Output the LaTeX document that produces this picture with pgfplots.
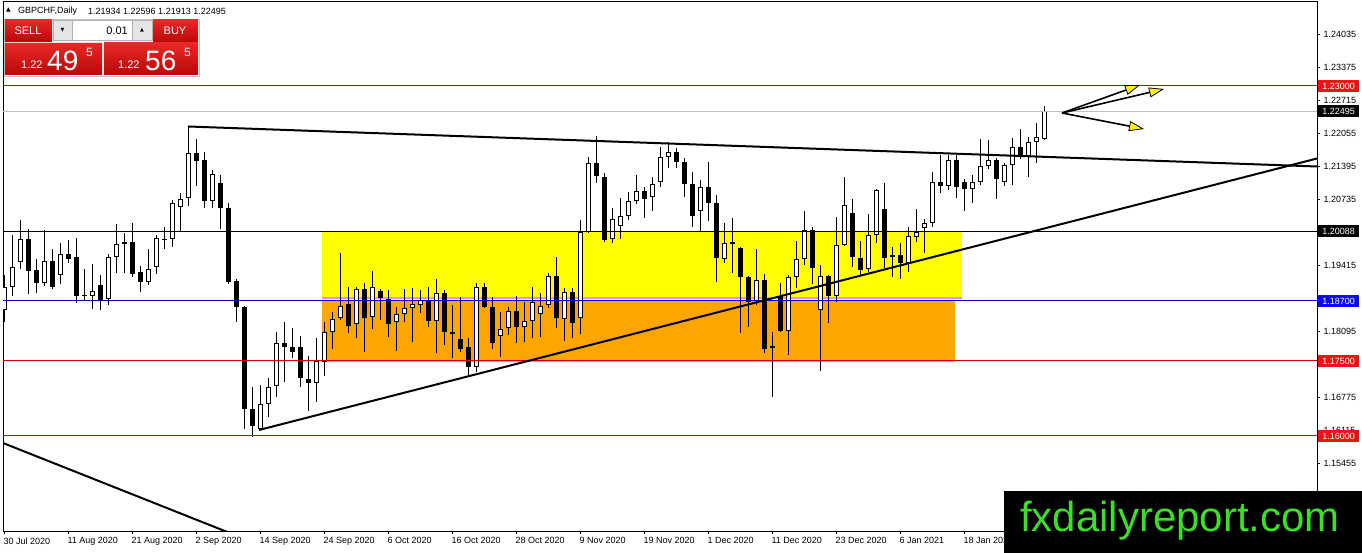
\documentclass[border=0pt]{standalone}
\usepackage{pgfplots}
\pgfplotsset{compat=1.18}
\usepackage{pgfplotstable}
\usepackage{fontspec}
\setmainfont{Liberation Sans}
\newfontfamily\dejavu{DejaVu Sans}
\usetikzlibrary{arrows.meta}
\definecolor{lnred}{RGB}{210,0,0}
\definecolor{lnblue}{RGB}{0,0,210}
\definecolor{boxorange}{RGB}{255,165,0}
\definecolor{boxyellow}{RGB}{255,255,0}
\definecolor{violetband}{RGB}{215,150,255}
\definecolor{wmgreen}{RGB}{60,222,40}
\definecolor{redtop}{RGB}{232,40,40}
\definecolor{redbot}{RGB}{185,8,8}
\definecolor{lblred}{RGB}{235,20,20}
\definecolor{lblblue}{RGB}{10,10,235}

\pgfplotstableread{
i o h l c
0 1.1852 1.1922 1.1828 1.1898
1 1.1898 1.2002 1.1880 1.1938
2 1.1948 1.2032 1.1934 1.1994
3 1.1994 1.2014 1.1884 1.1930
4 1.1932 1.1954 1.1886 1.1906
5 1.1906 1.2012 1.1900 1.1950
6 1.1950 1.1974 1.1894 1.1898
7 1.1922 1.1986 1.1904 1.1964
8 1.1964 1.1992 1.1946 1.1954
9 1.1958 1.1996 1.1866 1.1880
10 1.1882 1.1934 1.1872 1.1880
11 1.1880 1.1944 1.1854 1.1890
12 1.1902 1.1922 1.1852 1.1872
13 1.1874 1.1964 1.1862 1.1958
14 1.1958 1.2024 1.1926 1.1984
15 1.1984 1.2006 1.1926 1.1988
16 1.1988 1.2026 1.1918 1.1924
17 1.1928 1.1940 1.1888 1.1908
18 1.1908 1.1974 1.1902 1.1934
19 1.1938 1.2002 1.1924 1.1996
20 1.1993 1.2018 1.1974 1.1994
21 1.1994 1.2072 1.1978 1.2066
22 1.2058 1.2086 1.2010 1.2074
23 1.2076 1.2220 1.2060 1.2166
24 1.2166 1.2194 1.2100 1.2150
25 1.2152 1.2168 1.2056 1.2070
26 1.2070 1.2132 1.2056 1.2124
27 1.2106 1.2122 1.2014 1.2056
28 1.2056 1.2066 1.1904 1.1908
29 1.1910 1.1914 1.1828 1.1858
30 1.1858 1.1860 1.1614 1.1654
31 1.1654 1.1698 1.1598 1.1620
32 1.1614 1.1702 1.1612 1.1664
33 1.1664 1.1716 1.1638 1.1698
34 1.1700 1.1808 1.1678 1.1786
35 1.1786 1.1828 1.1708 1.1778
36 1.1778 1.1816 1.1756 1.1768
37 1.1778 1.1800 1.1698 1.1716
38 1.1714 1.1760 1.1650 1.1706
39 1.1706 1.1796 1.1668 1.1750
40 1.1748 1.1828 1.1720 1.1808
41 1.1808 1.1848 1.1774 1.1834
42 1.1836 1.1966 1.1832 1.1860
43 1.1864 1.1898 1.1806 1.1820
44 1.1824 1.1898 1.1796 1.1894
45 1.1894 1.1906 1.1768 1.1836
46 1.1838 1.1930 1.1814 1.1898
47 1.1890 1.1894 1.1832 1.1876
48 1.1874 1.1892 1.1798 1.1824
49 1.1828 1.1858 1.1770 1.1844
50 1.1844 1.1894 1.1828 1.1856
51 1.1856 1.1896 1.1788 1.1864
52 1.1862 1.1892 1.1846 1.1872
53 1.1872 1.1898 1.1818 1.1830
54 1.1830 1.1914 1.1766 1.1886
55 1.1886 1.1892 1.1782 1.1808
56 1.1808 1.1862 1.1756 1.1804
57 1.1794 1.1878 1.1768 1.1774
58 1.1778 1.1796 1.1718 1.1738
59 1.1738 1.1906 1.1728 1.1898
60 1.1898 1.1906 1.1856 1.1858
61 1.1858 1.1878 1.1774 1.1786
62 1.1800 1.1848 1.1758 1.1814
63 1.1816 1.1858 1.1802 1.1850
64 1.1850 1.1880 1.1786 1.1818
65 1.1818 1.1868 1.1788 1.1830
66 1.1830 1.1898 1.1796 1.1868
67 1.1844 1.1886 1.1798 1.1860
68 1.1862 1.1926 1.1856 1.1920
69 1.1920 1.1958 1.1816 1.1836
70 1.1834 1.1896 1.1790 1.1888
71 1.1888 1.1896 1.1796 1.1826
72 1.1836 1.2032 1.1804 1.2008
73 1.2008 1.2158 1.2006 1.2146
74 1.2146 1.2200 1.2106 1.2120
75 1.2118 1.2126 1.1988 1.1992
76 1.1994 1.2056 1.1986 1.2034
77 1.2020 1.2076 1.1994 1.2040
78 1.2040 1.2088 1.2032 1.2070
79 1.2070 1.2122 1.2064 1.2090
80 1.2090 1.2098 1.2036 1.2074
81 1.2078 1.2118 1.2050 1.2104
82 1.2108 1.2178 1.2098 1.2158
83 1.2158 1.2188 1.2136 1.2168
84 1.2168 1.2176 1.2136 1.2148
85 1.2148 1.2156 1.2078 1.2104
86 1.2104 1.2128 1.2018 1.2040
87 1.2050 1.2112 1.2008 1.2098
88 1.2098 1.2148 1.2030 1.2066
89 1.2066 1.2082 1.1908 1.1956
90 1.1954 1.2026 1.1946 1.1986
91 1.1988 1.2036 1.1926 1.1984
92 1.1976 1.1978 1.1806 1.1918
93 1.1918 1.1920 1.1818 1.1868
94 1.1870 1.1974 1.1862 1.1912
95 1.1912 1.1924 1.1766 1.1774
96 1.1780 1.1808 1.1678 1.1776
97 1.1880 1.1906 1.1808 1.1810
98 1.1810 1.1922 1.1762 1.1918
99 1.1918 1.1990 1.1896 1.1954
100 1.1954 1.2050 1.1942 1.2012
101 1.2012 1.2018 1.1904 1.1936
102 1.1852 1.1942 1.1730 1.1920
103 1.1920 1.1922 1.1826 1.1880
104 1.1880 1.2038 1.1868 1.1982
105 1.1982 1.2118 1.1980 1.2062
106 1.2046 1.2074 1.1938 1.1958
107 1.1956 1.1990 1.1918 1.1932
108 1.1934 1.2044 1.1928 1.2002
109 1.2002 1.2094 1.1986 1.2092
110 1.2054 1.2106 1.1936 1.1956
111 1.1958 1.1978 1.1918 1.1962
112 1.1962 1.1986 1.1914 1.1946
113 1.1946 1.2018 1.1928 1.2000
114 1.1998 1.2054 1.1988 1.2008
115 1.2016 1.2034 1.1966 1.2026
116 1.2026 1.2128 1.2018 1.2108
117 1.2108 1.2162 1.2086 1.2100
118 1.2100 1.2162 1.2092 1.2152
119 1.2152 1.2162 1.2076 1.2098
120 1.2108 1.2114 1.2050 1.2094
121 1.2094 1.2122 1.2066 1.2108
122 1.2108 1.2194 1.2102 1.2140
123 1.2140 1.2192 1.2134 1.2152
124 1.2152 1.2156 1.2074 1.2114
125 1.2108 1.2146 1.2100 1.2142
126 1.2142 1.2196 1.2102 1.2178
127 1.2178 1.2214 1.2154 1.2162
128 1.2160 1.2198 1.2118 1.2188
129 1.2188 1.2226 1.2146 1.2198
130 1.21934 1.22596 1.21913 1.22495
}\candles

\begin{document}
\begin{tikzpicture}
\useasboundingbox (0pt,0pt) rectangle (1362pt,553pt);
\fill[white] (0pt,0pt) rectangle (1362pt,553pt);
\begin{axis}[
  at={(3pt,22pt)}, anchor=south west,
  scale only axis, width=1314pt, height=530pt,
  xmin=-0.125, xmax=164.125, ymin=1.1410, ymax=1.2470,
  axis line style={black, line width=0.9pt},
  xtick={0,8,...,120},
  xticklabels={30 Jul 2020,11 Aug 2020,21 Aug 2020,2 Sep 2020,14 Sep 2020,24 Sep 2020,6 Oct 2020,16 Oct 2020,28 Oct 2020,9 Nov 2020,19 Nov 2020,1 Dec 2020,11 Dec 2020,23 Dec 2020,6 Jan 2021,18 Jan 2021},
  xtick pos=bottom, ytick pos=right, yticklabel pos=right,
  tick align=outside, major tick length=3pt,
  tick style={black, line width=0.7pt},
  xticklabel style={anchor=north west, xshift=-4pt, font=\fontsize{9}{10}\selectfont},
  ytick={1.15455,1.16115,1.16775,1.17435,1.18095,1.19415,1.20735,1.21395,1.22055,1.22715,1.23375,1.24035},
  yticklabels={1.15455,1.16115,1.16775,1.17435,1.18095,1.19415,1.20735,1.21395,1.22055,1.22715,1.23375,1.24035},
  yticklabel style={anchor=west, font=\fontsize{9}{10}\selectfont},
  /pgf/number format/assume math mode=true,
  scaled y ticks=false,
]
% zones
\addplot[fill=boxyellow, draw=none] coordinates {(39.75,1.2010) (119.75,1.2010) (119.75,1.1876) (39.75,1.1876)};
\addplot[fill=boxorange, draw=none] coordinates {(39.75,1.1872) (118.9,1.1872) (118.9,1.1748) (39.75,1.1748)};
\addplot[violetband, line width=2pt] coordinates {(39.75,1.18765) (119.75,1.18765)};
% wicks
\addplot[draw=none, error bars/.cd, y dir=both, y explicit, error mark=none,
  error bar style={draw=black, line width=1pt}]
  table[x=i, y expr={(\thisrow{h}+\thisrow{l})/2}, y error expr={(\thisrow{h}-\thisrow{l})/2}] {\candles};
% bodies
\addplot[draw=none, error bars/.cd, y dir=both, y explicit, error mark=none,
  error bar style={draw=black, line width=5pt}]
  table[x=i, y expr={(\thisrow{o}+\thisrow{c})/2}, y error expr={max(abs(\thisrow{c}-\thisrow{o})/2,0.0001)}] {\candles};
\addplot[draw=none, error bars/.cd, y dir=both, y explicit, error mark=none,
  error bar style={draw=white, line width=3pt}]
  table[x=i, y expr={(\thisrow{o}+\thisrow{c})/2}, y error expr={ifthenelse(\thisrow{c}>\thisrow{o}, max((\thisrow{c}-\thisrow{o})/2-0.0002,0), 0)}] {\candles};
% horizontal levels
\addplot[lnred, line width=1pt] coordinates {(-0.125,1.2300) (164.125,1.2300)};
\addplot[black!25, line width=1pt] coordinates {(-0.125,1.22495) (164.125,1.22495)};
\addplot[black, line width=1pt] coordinates {(-0.125,1.20088) (164.125,1.20088)};
\addplot[lnblue, line width=1pt] coordinates {(-0.125,1.1870) (164.125,1.1870)};
\addplot[lnred, line width=1pt] coordinates {(-0.125,1.1750) (164.125,1.1750)};
\addplot[lnred, line width=1pt] coordinates {(-0.125,1.1600) (164.125,1.1600)};
% trend lines
\addplot[black, line width=2pt] coordinates {(23,1.2219) (164.125,1.2139)};
\addplot[black, line width=2pt] coordinates {(31.875,1.1612) (164.125,1.2155)};
\addplot[black, line width=2pt] coordinates {(-0.125,1.1586) (30.75,1.1390)};
% arrows
\addplot[black, line width=1.6pt, -{Triangle[length=15pt,width=10pt,fill=yellow,line width=0.8pt]}] coordinates {(132.25,1.2246) (142.0,1.2302)};
\addplot[black, line width=1.6pt, -{Triangle[length=15pt,width=10pt,fill=yellow,line width=0.8pt]}] coordinates {(132.25,1.2246) (145.0,1.2294)};
\addplot[black, line width=1.6pt, -{Triangle[length=15pt,width=10pt,fill=yellow,line width=0.8pt]}] coordinates {(132.25,1.2246) (142.5,1.2214)};
\end{axis}
% price labels on the right scale
\tikzset{plab/.style={anchor=west, inner sep=0pt, minimum width=41pt, minimum height=12pt, text=white, font=\fontsize{9}{10}\selectfont}}
\node[plab, fill=lblred] at (1318pt,467pt) {1.23000};
\node[plab, fill=black] at (1318pt,441.75pt) {1.22495};
\node[plab, fill=black] at (1318pt,321.8pt) {1.20088};
\node[plab, fill=lblblue] at (1318pt,252pt) {1.18700};
\node[plab, fill=lblred] at (1318pt,192pt) {1.17500};
\node[plab, fill=lblred] at (1318pt,117pt) {1.16000};
% header
\node[anchor=west, inner sep=0pt, font=\dejavu\fontsize{6}{6}\selectfont] at (6pt,543pt) {▲};
\node[anchor=west, inner sep=0pt, font=\fontsize{9}{10}\selectfont] at (18pt,542pt) {GBPCHF,Daily};
\node[anchor=west, inner sep=0pt, font=\fontsize{9}{10}\selectfont] at (88pt,542pt) {1.21934 1.22596 1.21913 1.22495};
% one-click trading panel
\draw[black!25, line width=0.8pt] (4pt,477pt) rectangle (199pt,534pt);
\shade[top color=redtop, bottom color=redbot] (5pt,511pt) rectangle (52pt,533pt);
\shade[top color=redtop, bottom color=redbot] (153pt,511pt) rectangle (198pt,533pt);
\draw[black!30, fill=white, line width=0.6pt] (53pt,513pt) rectangle (152pt,533pt);
\draw[black!30, fill=black!10, line width=0.6pt] (53pt,513pt) rectangle (72pt,533pt);
\draw[black!30, fill=black!10, line width=0.6pt] (132pt,513pt) rectangle (152pt,533pt);
\node[inner sep=0pt, font=\dejavu\fontsize{5}{5}\selectfont] at (62.5pt,523pt) {▼};
\node[inner sep=0pt, font=\dejavu\fontsize{5}{5}\selectfont] at (142pt,523pt) {▲};
\node[anchor=east, inner sep=0pt, font=\fontsize{11}{12}\selectfont] at (128pt,522pt) {0.01};
\node[inner sep=0pt, text=white, font=\fontsize{11}{12}\selectfont] at (28pt,522pt) {SELL};
\node[inner sep=0pt, text=white, font=\fontsize{11}{12}\selectfont] at (175pt,522pt) {BUY};
\shade[top color=redtop, bottom color=redbot] (5pt,478pt) rectangle (102pt,510pt);
\shade[top color=redtop, bottom color=redbot] (104pt,478pt) rectangle (198pt,510pt);
\draw[white!85!red, line width=0.6pt] (5pt,510.5pt) -- (102pt,510.5pt);
\node[anchor=base west, inner sep=0pt, text=white, font=\fontsize{11}{12}\selectfont] at (21pt,484pt) {1.22};
\node[anchor=base west, inner sep=0pt, text=white, font=\fontsize{28}{28}\selectfont] at (47pt,482pt) {49};
\node[anchor=base west, inner sep=0pt, text=white, font=\fontsize{12}{12}\selectfont] at (86pt,496pt) {5};
\node[anchor=base west, inner sep=0pt, text=white, font=\fontsize{11}{12}\selectfont] at (118pt,484pt) {1.22};
\node[anchor=base west, inner sep=0pt, text=white, font=\fontsize{28}{28}\selectfont] at (145pt,482pt) {56};
\node[anchor=base west, inner sep=0pt, text=white, font=\fontsize{12}{12}\selectfont] at (184pt,496pt) {5};
% watermark
\fill[black] (1004pt,0pt) rectangle (1362pt,62pt);
\node[anchor=base west, inner sep=0pt, text=wmgreen, font=\fontsize{42}{42}\selectfont] at (1020pt,21pt) {fxdailyreport.com};
\end{tikzpicture}
\end{document}
